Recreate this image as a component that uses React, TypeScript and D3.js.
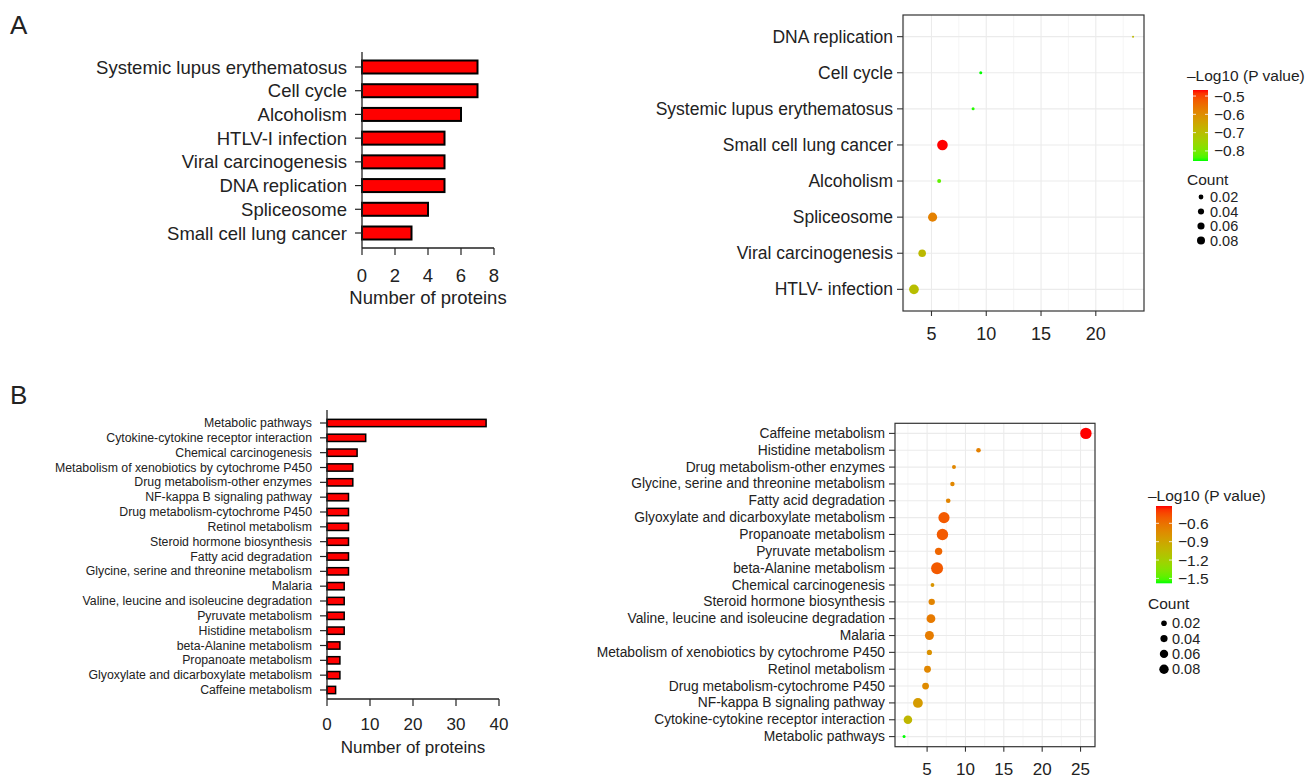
import React from "react";
import * as d3 from "d3";

// ---------------- Panel A : bar chart ----------------
const aBarCategories = [
  "Systemic lupus erythematosus",
  "Cell cycle",
  "Alcoholism",
  "HTLV-I infection",
  "Viral carcinogenesis",
  "DNA replication",
  "Spliceosome",
  "Small cell lung cancer",
];
const aBarValues = [7, 7, 6, 5, 5, 5, 4, 3];
const aBarTicks = [0, 2, 4, 6, 8];

// ---------------- Panel A : dot plot ----------------
const aDotCategories = [
  "DNA replication",
  "Cell cycle",
  "Systemic lupus erythematosus",
  "Small cell lung cancer",
  "Alcoholism",
  "Spliceosome",
  "Viral carcinogenesis",
  "HTLV- infection",
];
const aDotX = [23.4, 9.5, 8.8, 6.0, 5.7, 5.1, 4.15, 3.4];
const aDotLogP = [-0.69, -0.855, -0.85, -0.467, -0.82, -0.58, -0.69, -0.7];
const aDotCount = [0.0003, 0.004, 0.004, 0.16, 0.011, 0.11, 0.07, 0.13];
const aDotTicks = [5, 10, 15, 20];
const aColorBreaks = [-0.5, -0.6, -0.7, -0.8];

// ---------------- Panel B : bar chart ----------------
const bBarCategories = [
  "Metabolic pathways",
  "Cytokine-cytokine receptor interaction",
  "Chemical carcinogenesis",
  "Metabolism of xenobiotics by cytochrome P450",
  "Drug metabolism-other enzymes",
  "NF-kappa B signaling pathway",
  "Drug metabolism-cytochrome P450",
  "Retinol metabolism",
  "Steroid hormone biosynthesis",
  "Fatty acid degradation",
  "Glycine, serine and threonine metabolism",
  "Malaria",
  "Valine, leucine and isoleucine degradation",
  "Pyruvate metabolism",
  "Histidine metabolism",
  "beta-Alanine metabolism",
  "Propanoate metabolism",
  "Glyoxylate and dicarboxylate metabolism",
  "Caffeine metabolism",
];
const bBarValues = [37, 9, 7, 6, 6, 5, 5, 5, 5, 5, 5, 4, 4, 4, 4, 3, 3, 3, 2];
const bBarTicks = [0, 10, 20, 30, 40];

// ---------------- Panel B : dot plot ----------------
const bDotCategories = [
  "Caffeine metabolism",
  "Histidine metabolism",
  "Drug metabolism-other enzymes",
  "Glycine, serine and threonine metabolism",
  "Fatty acid degradation",
  "Glyoxylate and dicarboxylate metabolism",
  "Propanoate metabolism",
  "Pyruvate metabolism",
  "beta-Alanine metabolism",
  "Chemical carcinogenesis",
  "Steroid hormone biosynthesis",
  "Valine, leucine and isoleucine degradation",
  "Malaria",
  "Metabolism of xenobiotics by cytochrome P450",
  "Retinol metabolism",
  "Drug metabolism-cytochrome P450",
  "NF-kappa B signaling pathway",
  "Cytokine-cytokine receptor interaction",
  "Metabolic pathways",
];
const bDotX = [25.7, 11.7, 8.5, 8.3, 7.75, 7.2, 7.0, 6.5, 6.3, 5.7, 5.6, 5.5, 5.3, 5.3, 5.05, 4.8, 3.8, 2.5, 2.0];
const bDotLogP = [-0.317, -0.68, -0.72, -0.72, -0.7, -0.5, -0.5, -0.55, -0.5, -0.8, -0.7, -0.65, -0.66, -0.78, -0.72, -0.74, -0.84, -1.02, -1.58];
const bDotCount = [0.128, 0.011, 0.0067, 0.0094, 0.011, 0.122, 0.128, 0.043, 0.144, 0.0055, 0.029, 0.068, 0.072, 0.016, 0.035, 0.035, 0.089, 0.064, 0.002];
const bDotTicks = [5, 10, 15, 20, 25];
const bColorBreaks = [-0.6, -0.9, -1.2, -1.5];

const countBreaks = [0.02, 0.04, 0.06, 0.08];

const FONT = "'Liberation Sans', Arial, Helvetica, sans-serif";
const TXT = "#222";

function BarChart(p: any) {
  const x = d3.scaleLinear().domain([0, p.domainMax]).range([p.x0, p.x1]);
  const y = d3.scalePoint<string>().domain(p.cats).range([p.yFirst, p.yLast]);
  return (
    <g>
      {p.cats.map((c: string, i: number) => {
        const yc = y(c)!;
        return (
          <g key={c}>
            <rect x={x(0)} y={yc - p.barH / 2} width={x(p.vals[i]) - x(0)} height={p.barH}
              fill="#ff0000" stroke="#000" strokeWidth={p.strokeW} />
            <line x1={p.x0 - p.tickLen} x2={p.x0} y1={yc} y2={yc} stroke={TXT} strokeWidth={1.2} />
            <text x={p.x0 - p.tickLen - 8} y={yc} textAnchor="end" dominantBaseline="central"
              fontSize={p.labelSize} fill={TXT}>{c}</text>
          </g>
        );
      })}
      <line x1={p.x0} x2={p.x0} y1={p.axisTop} y2={p.axisBottom} stroke={TXT} strokeWidth={1.3} />
      <line x1={p.x0} x2={p.x1} y1={p.axisBottom} y2={p.axisBottom} stroke={TXT} strokeWidth={1.3} />
      {p.ticks.map((t: number) => (
        <g key={t}>
          <line x1={x(t)} x2={x(t)} y1={p.axisBottom} y2={p.axisBottom + p.tickLen} stroke={TXT} strokeWidth={1.2} />
          <text x={x(t)} y={p.tickLabelY} textAnchor="middle" fontSize={p.tickSize} fill={TXT}>{t}</text>
        </g>
      ))}
      <text x={(p.x0 + p.x1) / 2} y={p.titleY} textAnchor="middle" fontSize={p.titleSize} fill={TXT}>
        Number of proteins
      </text>
    </g>
  );
}

function DotPlot(p: any) {
  const [mn, mx] = d3.extent(p.xs as number[]) as [number, number];
  const pad = (mx - mn) * 0.05;
  const x = d3.scaleLinear().domain([mn - pad, mx + pad]).range([p.l, p.r]);
  const y = d3.scalePoint<string>().domain(p.cats).range([p.t, p.b]).padding(0.6);
  const cExt = d3.extent(p.logp as number[]) as [number, number];
  const color = d3.scaleLinear<string>().domain(cExt).range(["#00ff00", "#ff0000"]).interpolate(d3.interpolateLab);
  const size = d3.scaleSqrt().domain([0, 0.08]).range(p.sizeRange);
  const [d0, d1] = x.domain();
  const minor: number[] = [];
  for (let v = 2.5; v < d1; v += 5) if (v > d0) minor.push(v);
  const lg = p.legend;
  const barY = d3.scaleLinear().domain(cExt).range([lg.barBottom, lg.barTop]);
  const gid = p.id;
  const stops = d3.range(0, 1.0001, 0.05);
  return (
    <g>
      <defs>
        <linearGradient id={gid} x1="0" y1="1" x2="0" y2="0">
          {stops.map((s: number) => (
            <stop key={s} offset={s} stopColor={color(cExt[0] + s * (cExt[1] - cExt[0]))} />
          ))}
        </linearGradient>
      </defs>
      <rect x={p.l} y={p.t} width={p.r - p.l} height={p.b - p.t} fill="#fff" />
      {minor.map((v) => (
        <line key={"m" + v} x1={x(v)} x2={x(v)} y1={p.t} y2={p.b} stroke="#f2f2f2" strokeWidth={0.8} />
      ))}
      {p.ticks.map((v: number) => (
        <line key={"g" + v} x1={x(v)} x2={x(v)} y1={p.t} y2={p.b} stroke="#ebebeb" strokeWidth={1.1} />
      ))}
      {p.cats.map((c: string) => (
        <line key={"h" + c} x1={p.l} x2={p.r} y1={y(c)} y2={y(c)} stroke="#ebebeb" strokeWidth={1.1} />
      ))}
      {p.cats.map((c: string, i: number) => (
        <circle key={"p" + c} cx={x(p.xs[i])} cy={y(c)} r={size(p.counts[i])} fill={color(p.logp[i])} />
      ))}
      <rect x={p.l} y={p.t} width={p.r - p.l} height={p.b - p.t} fill="none" stroke="#333" strokeWidth={1.2} />
      {p.cats.map((c: string) => (
        <g key={"l" + c}>
          <line x1={p.l - 6} x2={p.l} y1={y(c)} y2={y(c)} stroke="#333" strokeWidth={1.1} />
          <text x={p.l - 10} y={y(c)} textAnchor="end" dominantBaseline="central" fontSize={p.labelSize} fill={TXT}>{c}</text>
        </g>
      ))}
      {p.ticks.map((v: number) => (
        <g key={"t" + v}>
          <line x1={x(v)} x2={x(v)} y1={p.b} y2={p.b + 5} stroke="#333" strokeWidth={1.1} />
          <text x={x(v)} y={p.tickLabelY} textAnchor="middle" fontSize={p.tickSize} fill={TXT}>{v}</text>
        </g>
      ))}
      {/* legend */}
      <text x={lg.x} y={lg.titleY} fontSize={15.5} fill={TXT}>–Log10 (P value)</text>
      <rect x={lg.barX} y={lg.barTop} width={lg.barW} height={lg.barBottom - lg.barTop} fill={`url(#${gid})`} />
      {p.colorBreaks.map((v: number) => (
        <g key={"cb" + v}>
          <line x1={lg.barX} x2={lg.barX + 3} y1={barY(v)} y2={barY(v)} stroke="#fff" strokeWidth={0.8} />
          <line x1={lg.barX + lg.barW - 3} x2={lg.barX + lg.barW} y1={barY(v)} y2={barY(v)} stroke="#fff" strokeWidth={0.8} />
          <text x={lg.barX + lg.barW + 6} y={barY(v)} dominantBaseline="central" fontSize={15.5} fill={TXT}>
            {"\u2212" + Math.abs(v).toFixed(1)}
          </text>
        </g>
      ))}
      <text x={lg.x} y={lg.countTitleY} fontSize={15.5} fill={TXT}>Count</text>
      {countBreaks.map((v, i) => (
        <g key={"cn" + v}>
          <circle cx={lg.dotX} cy={lg.dotY0 + i * lg.dotStep} r={size(v)} fill="#000" />
          <text x={lg.dotLabelX} y={lg.dotY0 + i * lg.dotStep} dominantBaseline="central" fontSize={14.5} fill={TXT}>
            {v.toFixed(2)}
          </text>
        </g>
      ))}
    </g>
  );
}

export default function App() {
  return (
    <svg width={1306} height={779} style={{ position: "absolute", left: 0, top: 0 }} fontFamily={FONT}>
      <rect width={1306} height={779} fill="#fff" />
      <text x={10} y={34} fontSize={26} fill={TXT}>A</text>
      <text x={10} y={404} fontSize={26} fill={TXT}>B</text>

      <BarChart cats={aBarCategories} vals={aBarValues} domainMax={8} ticks={aBarTicks}
        x0={362} x1={494} yFirst={67} yLast={233} axisTop={52} axisBottom={248}
        barH={13} strokeW={2} labelSize={18.5} tickSize={18.5} titleSize={18.5}
        tickLen={7} tickLabelY={281.5} titleY={304} />

      <BarChart cats={bBarCategories} vals={bBarValues} domainMax={40} ticks={bBarTicks}
        x0={327} x1={499} yFirst={423} yLast={690} axisTop={410} axisBottom={699}
        barH={7.3} strokeW={1.5} labelSize={12.3} tickSize={17} titleSize={17}
        tickLen={7} tickLabelY={729.5} titleY={752.5} />

      <DotPlot id="gradA" cats={aDotCategories} xs={aDotX} logp={aDotLogP} counts={aDotCount}
        ticks={aDotTicks} colorBreaks={aColorBreaks} l={903} r={1144} t={15} b={311}
        labelSize={17.5} tickSize={18} tickLabelY={340} sizeRange={[0.8, 4.0]}
        legend={{ x: 1187, titleY: 80.5, barX: 1193, barW: 15, barTop: 90, barBottom: 161,
          countTitleY: 184.5, dotX: 1201, dotY0: 197, dotStep: 14.5, dotLabelX: 1210 }} />

      <DotPlot id="gradB" cats={bDotCategories} xs={bDotX} logp={bDotLogP} counts={bDotCount}
        ticks={bDotTicks} colorBreaks={bColorBreaks} l={895} r={1095} t={423.3} b={746.7}
        labelSize={13.8} tickSize={17} tickLabelY={775} sizeRange={[0.9, 4.7]}
        legend={{ x: 1148, titleY: 500.5, barX: 1156, barW: 16, barTop: 506, barBottom: 583.3,
          countTitleY: 608.5, dotX: 1164, dotY0: 623.3, dotStep: 15.3, dotLabelX: 1172 }} />
    </svg>
  );
}
